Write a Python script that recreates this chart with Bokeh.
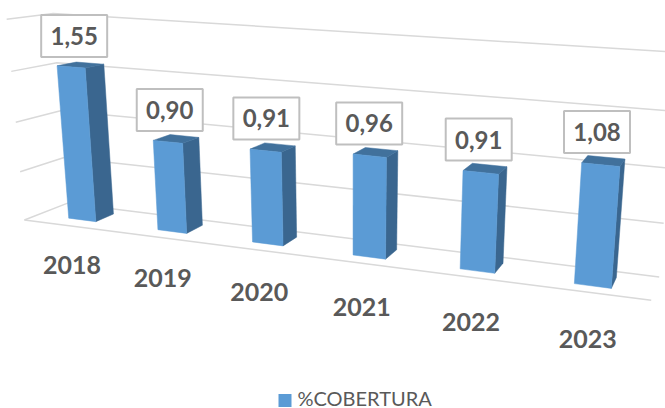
import numpy as np
from bokeh.plotting import figure
from bokeh.core.properties import value
from bokeh.embed import file_html
from bokeh.resources import INLINE

years = ["2018", "2019", "2020", "2021", "2022", "2023"]
cobertura = [1.55, 0.90, 0.91, 0.96, 0.91, 1.08]
labels = ["1,55", "0,90", "0,91", "0,96", "0,91", "1,08"]
levels = [0, 0.5, 1.0, 1.5, 2.0]
legend_name = "%COBERTURA"

CAM = np.array([[85.0616, -8.98287, 42.7779, 28.0543],
                [5.01056, -100.375, -4.12398, 217.93],
                [-0.02876, -0.0255203, 0.0549192, 1.0]])
HALF_W, HALF_D = 0.155, 0.24


def proj(u, v, w):
    r = CAM @ np.array([u, v, w, 1.0])
    return r[0] / r[2], r[1] / r[2]


p = figure(width=665, height=408, x_range=(0, 665), y_range=(408, 0),
           output_backend="svg", toolbar_location=None, min_border=0,
           outline_line_color=None, background_fill_color="white")
p.axis.visible = False
p.grid.visible = False

GRID = "#d9d9d9"
n = len(years)
for lv in levels:
    pts = [proj(0, lv, -0.1), proj(0, lv, 1), proj(n, lv, 1)]
    p.line([a for a, _ in pts], [b for _, b in pts], line_color=GRID, line_width=1.5)
a, b = zip(proj(0, 0, -0.1), proj(n, 0, 0))
p.line(list(a), list(b), line_color=GRID, line_width=1.5)

for i, v in enumerate(cobertura):
    c = i + 0.5
    u0, u1, w0, w1 = c - HALF_W, c + HALF_W, 0.5 - HALF_D, 0.5 + HALF_D
    side = [proj(u1, 0, w0), proj(u1, 0, w1), proj(u1, v, w1), proj(u1, v, w0)]
    top = [proj(u0, v, w0), proj(u1, v, w0), proj(u1, v, w1), proj(u0, v, w1)]
    front = [proj(u0, 0, w0), proj(u1, 0, w0), proj(u1, v, w0), proj(u0, v, w0)]
    for poly, col in ((side, "#3a668f"), (top, "#41719c"), (front, "#5b9bd5")):
        p.patch([q[0] for q in poly], [q[1] for q in poly], fill_color=col, line_color=col, line_width=0.5)
    tx, ty = proj(c, v, 0.5)
    lx, ly = tx - 6.5, ty - 29
    p.rect([lx], [ly], width=66, height=42, fill_color="white", line_color="#bfbfbf", line_width=2)
    p.text([lx], [ly], text=[labels[i]], text_font=value("Lato"), text_font_size="24px",
           text_font_style="bold", text_color="#595959", text_align="center", text_baseline="middle")
    ax, ay = proj(c + 0.02, -0.4, -0.12)
    p.text([ax], [ay], text=[years[i]], text_font=value("Lato"), text_font_size="25px",
           text_font_style="bold", text_color="#595959", text_align="center", text_baseline="middle")

p.rect([284.5], [400], width=13, height=13, fill_color="#5b9bd5", line_color=None)
p.text([297], [397], text=[legend_name], text_font=value("Lato"), text_font_size="20px",
       text_color="#595959", text_align="left", text_baseline="middle")

open("out.html", "w").write(file_html(p, INLINE))
